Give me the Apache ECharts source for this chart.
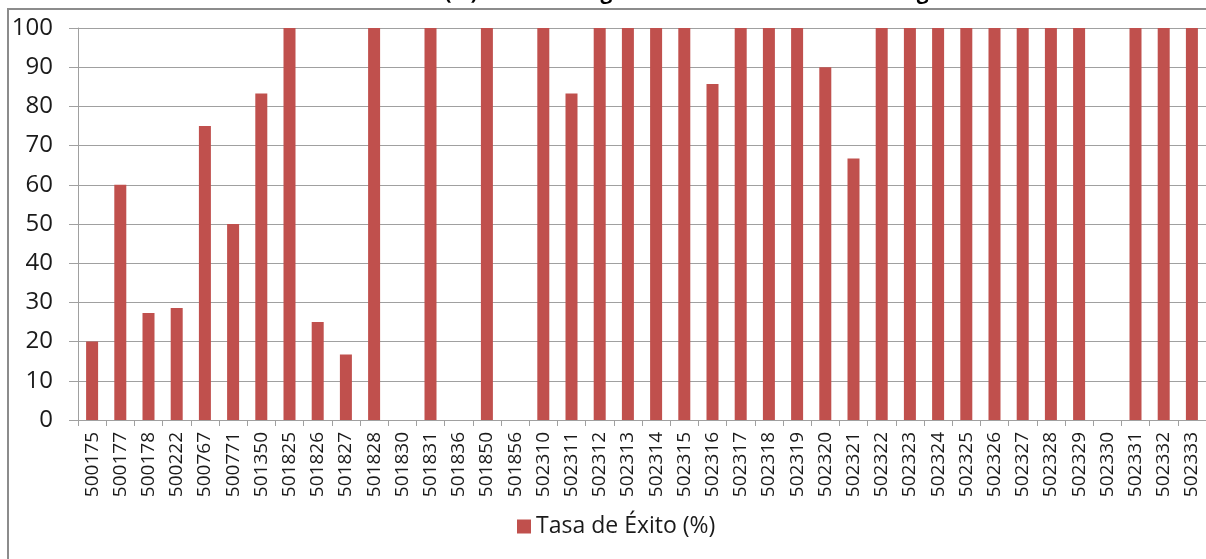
<!DOCTYPE html>
<html>
<head>
<meta charset="utf-8">
<title>Tasa de Éxito (%)</title>
<script src="https://cdn.jsdelivr.net/npm/echarts@6/dist/echarts.min.js"></script>
<style>
  html, body { margin: 0; padding: 0; background: #fff; }
  #main { width: 1206px; height: 559px; }
</style>
</head>
<body>
<div id="main"></div>
<script>
// codigos de los centros (eje x)
var codigos = [
  "500175", "500177", "500178", "500222", "500767", "500771", "501350", "501825",
  "501826", "501827", "501828", "501830", "501831", "501836", "501850", "501856",
  "502310", "502311", "502312", "502313", "502314", "502315", "502316", "502317",
  "502318", "502319", "502320", "502321", "502322", "502323", "502324", "502325",
  "502326", "502327", "502328", "502329", "502330", "502331", "502332", "502333"
];
// tasa de exito en %
var tasaExito = [
  20, 60, 27.3, 28.6, 75, 50, 83.3, 100,
  25, 16.7, 100, 0, 100, 0, 100, 0,
  100, 83.3, 100, 100, 100, 100, 85.7, 100,
  100, 100, 90, 66.7, 100, 100, 100, 100,
  100, 100, 100, 100, 0, 100, 100, 100
];
var ticksY = [0, 100, 10]; // min, max, intervalo

var chart = echarts.init(document.getElementById("main"));
chart.setOption({
  animation: false,
  textStyle: { fontFamily: "Open Sans" },
  graphic: [
    {
      type: "rect",
      shape: { x: 8, y: 9, width: 1400, height: 800 },
      style: { fill: "none", stroke: "#8c8c8c", lineWidth: 2 },
      silent: true
    },
    {
      // titulo, queda cortado arriba
      type: "text",
      x: 302,
      y: 4,
      style: {
        text: "Tasa de Éxito (%) de cada Asignatura en los Centros del Programa",
        font: "bold 21px 'Open Sans'",
        fill: "#000",
        verticalAlign: "bottom"
      },
      silent: true
    }
  ],
  grid: { left: 78, right: 0, top: 28, bottom: 139 },
  legend: {
    left: 512,
    top: 510,
    icon: "rect",
    itemWidth: 14,
    itemHeight: 14,
    itemGap: 6,
    textStyle: { fontSize: 23, color: "#1a1a1a", fontFamily: "Open Sans" },
    data: ["Tasa de Éxito (%)"]
  },
  xAxis: {
    type: "category",
    data: codigos,
    axisLine: { lineStyle: { color: "#a0a0a0", width: 1 } },
    axisTick: { show: true, length: 6, lineStyle: { color: "#a0a0a0" } },
    axisLabel: {
      interval: 0,
      rotate: 90,
      margin: 12,
      fontSize: 19,
      color: "#1a1a1a",
      fontFamily: "Open Sans"
    }
  },
  yAxis: {
    type: "value",
    min: ticksY[0],
    max: ticksY[1],
    interval: ticksY[2],
    axisLine: { show: true, lineStyle: { color: "#a0a0a0", width: 1 } },
    axisTick: { show: true, length: 9, lineStyle: { color: "#a0a0a0" } },
    splitLine: { lineStyle: { color: "#a0a0a0", width: 1 } },
    axisLabel: {
      margin: 25,
      fontSize: 24,
      color: "#1a1a1a",
      fontFamily: "Open Sans"
    }
  },
  series: [
    {
      name: "Tasa de Éxito (%)",
      type: "bar",
      barWidth: 12,
      data: tasaExito,
      itemStyle: { color: "#C0504D" }
    }
  ]
});
</script>
</body>
</html>
